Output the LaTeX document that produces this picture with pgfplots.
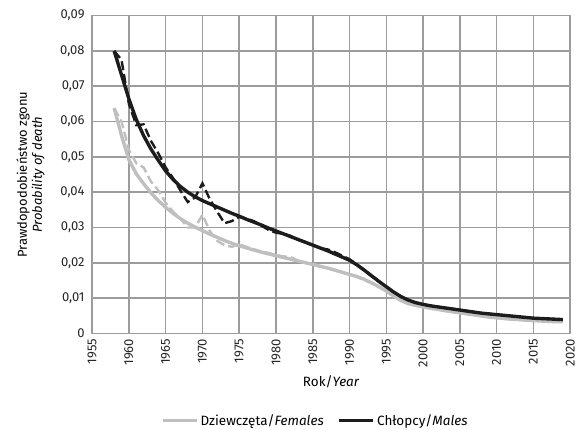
\documentclass[border=0pt]{standalone}
\usepackage{fontspec}
\setmainfont{Fira Sans}
\usepackage{pgfplots}
\pgfplotsset{compat=1.18}
\usepackage{pgfplotstable}
\definecolor{fgray}{HTML}{BFBFBF}
\definecolor{mblack}{HTML}{1C1C1C}
\definecolor{gridc}{HTML}{9C9C9C}

\pgfplotstableread{
year ftrend mtrend
1958 0.0638 0.0800
1959 0.0560 0.0732
1960 0.0492 0.0664
1961 0.0452 0.0606
1962 0.0424 0.0560
1963 0.0398 0.0522
1964 0.0376 0.0490
1965 0.0357 0.0460
1966 0.0340 0.0436
1967 0.0325 0.0416
1968 0.0312 0.0400
1969 0.0301 0.0387
1970 0.0291 0.0376
1971 0.0281 0.0367
1972 0.0272 0.0358
1973 0.0263 0.0349
1974 0.0255 0.0340
1975 0.0248 0.0332
1976 0.0242 0.0323
1977 0.0236 0.0315
1978 0.0230 0.0307
1979 0.0225 0.0298
1980 0.0220 0.0290
1981 0.0215 0.0282
1982 0.0210 0.0274
1983 0.0205 0.0266
1984 0.0200 0.0258
1985 0.0195 0.0250
1986 0.0190 0.0242
1987 0.0185 0.0234
1988 0.0179 0.0225
1989 0.0173 0.0216
1990 0.0167 0.0207
1991 0.0161 0.0194
1992 0.0153 0.0179
1993 0.0143 0.0163
1994 0.0132 0.0147
1995 0.0120 0.0132
1996 0.0106 0.0117
1997 0.0093 0.0104
1998 0.0084 0.0094
1999 0.0079 0.0087
2000 0.0075 0.0082
2001 0.0071 0.0078
2002 0.0068 0.0075
2003 0.0064 0.0072
2004 0.0061 0.0069
2005 0.0058 0.0066
2006 0.0055 0.0063
2007 0.0052 0.0060
2008 0.0049 0.0057
2009 0.0046 0.0055
2010 0.0044 0.0053
2011 0.0042 0.0051
2012 0.0040 0.0049
2013 0.0039 0.0047
2014 0.0037 0.0045
2015 0.0036 0.0043
2016 0.0035 0.0042
2017 0.0034 0.0041
2018 0.0033 0.0040
2019 0.0033 0.0039
}\trend

\pgfplotstableread{
year fact mact
1958 0.0638 0.0800
1959 0.0600 0.0775
1960 0.0520 0.0650
1961 0.0482 0.0590
1962 0.0470 0.0592
1963 0.0430 0.0545
1964 0.0405 0.0510
1965 0.0370 0.0470
1966 0.0345 0.0440
1967 0.0325 0.0405
1968 0.0300 0.0372
1969 0.0300 0.0385
1970 0.0336 0.0425
1971 0.0290 0.0380
1972 0.0262 0.0345
1973 0.0250 0.0312
1974 0.0245 0.0318
1975 0.0252 0.0330
1976 0.0245 0.0325
1977 0.0238 0.0318
1978 0.0232 0.0305
1979 0.0228 0.0293
1980 0.0222 0.0285
1981 0.0218 0.0282
1982 0.0216 0.0276
1983 0.0206 0.0265
1984 0.0200 0.0258
1985 0.0196 0.0250
1986 0.0190 0.0241
1987 0.0186 0.0238
1988 0.0180 0.0230
1989 0.0174 0.0220
1990 0.0166 0.0210
1991 0.0160 0.0195
1992 0.0152 0.0180
1993 0.0142 0.0162
1994 0.0131 0.0146
1995 0.0119 0.0131
1996 0.0105 0.0116
1997 0.0093 0.0104
1998 0.0084 0.0094
1999 0.0079 0.0087
2000 0.0075 0.0082
2001 0.0071 0.0078
2002 0.0068 0.0075
2003 0.0064 0.0072
2004 0.0061 0.0069
2005 0.0058 0.0066
2006 0.0055 0.0063
2007 0.0052 0.0060
2008 0.0049 0.0057
2009 0.0046 0.0055
2010 0.0044 0.0053
2011 0.0042 0.0051
2012 0.0040 0.0049
2013 0.0039 0.0047
2014 0.0037 0.0045
2015 0.0036 0.0043
2016 0.0035 0.0042
2017 0.0034 0.0041
2018 0.0033 0.0040
2019 0.0033 0.0039
}\actual

\begin{document}
\begin{tikzpicture}
\begin{axis}[
  scale only axis,
  width=479pt, height=318.3pt,
  xmin=1955, xmax=2020, ymin=0, ymax=0.09,
  xtick={1955,1960,...,2020},
  ytick={0,0.01,0.02,0.03,0.04,0.05,0.06,0.07,0.08,0.09},
  yticklabels={0,{0,01},{0,02},{0,03},{0,04},{0,05},{0,06},{0,07},{0,08},{0,09}},
  scaled y ticks=false,
  /pgf/number format/1000 sep={},
  /pgf/number format/assume math mode=true,
  tick align=inside,
  major tick length=318.3pt,
  xtick style={gridc, line width=1.6pt},
  ytick style={gridc, line width=1.6pt},
  axis line style={gridc, line width=1.6pt},
  tick label style={font=\fontsize{13}{15}\selectfont, text=black!85},
  xticklabel style={rotate=90, anchor=east, xshift=-2pt},
  yticklabel style={xshift=-4pt},
  xlabel={Rok/\textit{Year}},
  xlabel style={font=\fontsize{13.5}{15}\selectfont, yshift=-2pt},
  ylabel={\begin{tabular}{c}Prawdopodobieństwo zgonu\\\textit{Probability of death}\end{tabular}},
  ylabel style={font=\fontsize{13}{15}\selectfont, yshift=7pt},
  legend style={draw=none, at={(0.467,-0.275)}, anchor=center,
    font=\fontsize{13.5}{15}\selectfont, legend columns=2,
    /tikz/every even column/.append style={column sep=12pt},
    inner sep=0pt, cells={anchor=west}},
  legend image code/.code={\draw[#1, line width=3.5pt] (0pt,0pt) -- (34pt,0pt);},
  grid=major,
  grid style={solid, color=gridc, line width=1.6pt},
]
\addplot[fgray, line width=2.4pt, dash pattern=on 9pt off 4pt, forget plot] table[x=year, y=fact] {\actual};
\addplot[mblack, line width=2.4pt, dash pattern=on 9pt off 4pt, forget plot] table[x=year, y=mact] {\actual};
\addplot[fgray, line width=3.4pt, line join=round] table[x=year, y=ftrend] {\trend};
\addlegendentry{Dziewczęta/\textit{Females}}
\addplot[mblack, line width=3.4pt, line join=round] table[x=year, y=mtrend] {\trend};
\addlegendentry{Chłopcy/\textit{Males}}
\end{axis}
\path ([shift={(-92.3pt,-96pt)}]current axis.south west) rectangle ([shift={(6.7pt,15.7pt)}]current axis.north east);
\end{tikzpicture}
\end{document}
